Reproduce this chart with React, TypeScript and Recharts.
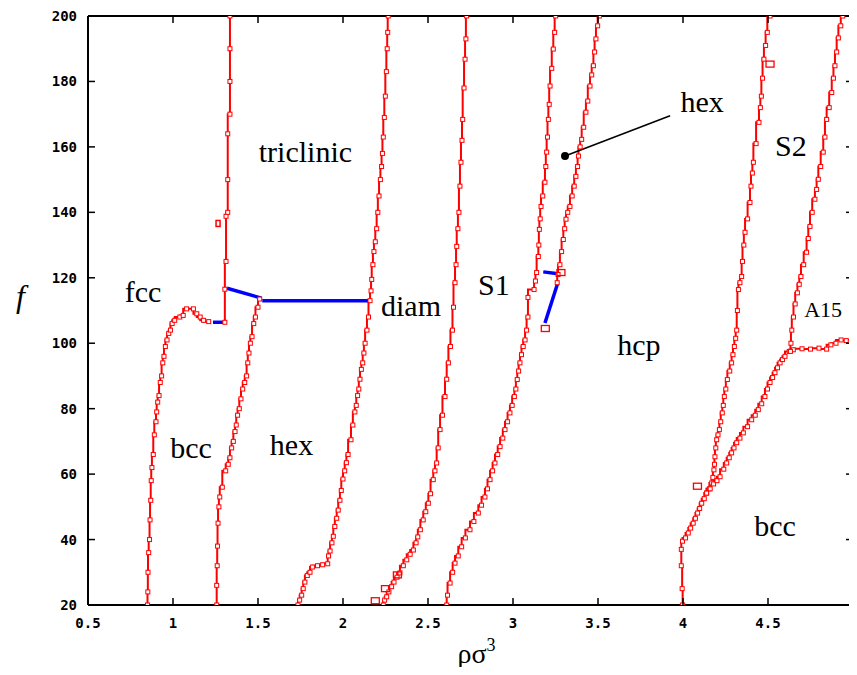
import { ComposedChart, Line, Scatter, XAxis, YAxis, ReferenceLine, ReferenceDot } from 'recharts';

const xTicks = [0.5, 1, 1.5, 2, 2.5, 3, 3.5, 4, 4.5, 5];
const yTicks = [20, 40, 60, 80, 100, 120, 140, 160, 180, 200];
const xDomain = [0.5, 5];
const yDomain = [20, 200];

// red phase boundaries (rho sigma^3, f)
const bccFcc = [
    { x: 0.85, y: 20 }, { x: 0.852, y: 24 }, { x: 0.853, y: 30 }, { x: 0.857, y: 36 }, { x: 0.862, y: 40 },
    { x: 0.865, y: 46 }, { x: 0.869, y: 52 }, { x: 0.872, y: 58 }, { x: 0.876, y: 62 }, { x: 0.884, y: 66 },
    { x: 0.89, y: 72 }, { x: 0.9, y: 76 }, { x: 0.904, y: 79 }, { x: 0.91, y: 82 }, { x: 0.918, y: 84 },
    { x: 0.925, y: 88 }, { x: 0.933, y: 90 }, { x: 0.94, y: 94 }, { x: 0.947, y: 96 }, { x: 0.955, y: 99 },
    { x: 0.965, y: 101 }, { x: 0.975, y: 103 }, { x: 0.985, y: 104 }, { x: 0.995, y: 106 }, { x: 1.01, y: 107 },
    { x: 1.04, y: 108 }, { x: 1.06, y: 108.5 }, { x: 1.08, y: 110.5 }, { x: 1.12, y: 110.5 }, { x: 1.14, y: 109 },
    { x: 1.16, y: 108 }, { x: 1.18, y: 107 }, { x: 1.21, y: 106.6 },
];
const fccTriclinic = [
    { x: 1.305, y: 106.4 }, { x: 1.305, y: 116.5 }, { x: 1.312, y: 125 }, { x: 1.312, y: 138.8 }, { x: 1.322, y: 140 },
    { x: 1.322, y: 150 }, { x: 1.322, y: 164 }, { x: 1.335, y: 170 }, { x: 1.335, y: 180 }, { x: 1.335, y: 190 },
    { x: 1.335, y: 200 },
];
const bccHex = [
    { x: 1.257, y: 20 }, { x: 1.257, y: 26 }, { x: 1.26, y: 32 }, { x: 1.262, y: 38 }, { x: 1.265, y: 45 },
    { x: 1.27, y: 50 }, { x: 1.275, y: 53 }, { x: 1.29, y: 56 }, { x: 1.31, y: 61 }, { x: 1.325, y: 63 },
    { x: 1.335, y: 65 }, { x: 1.345, y: 68 }, { x: 1.355, y: 70 }, { x: 1.365, y: 73 }, { x: 1.372, y: 75 },
    { x: 1.38, y: 78 }, { x: 1.39, y: 80 }, { x: 1.4, y: 83 }, { x: 1.41, y: 86 }, { x: 1.422, y: 88 },
    { x: 1.433, y: 90 }, { x: 1.44, y: 94 }, { x: 1.447, y: 97 }, { x: 1.455, y: 100 }, { x: 1.465, y: 102 },
    { x: 1.475, y: 106 }, { x: 1.485, y: 108 }, { x: 1.5, y: 111 }, { x: 1.51, y: 113.5 },
];
const hexDiam = [
    { x: 1.735, y: 20 }, { x: 1.745, y: 21.5 }, { x: 1.757, y: 23 }, { x: 1.766, y: 25 }, { x: 1.776, y: 27 },
    { x: 1.79, y: 29 }, { x: 1.806, y: 30 }, { x: 1.82, y: 31.6 }, { x: 1.85, y: 32 }, { x: 1.88, y: 32.3 },
    { x: 1.91, y: 32.6 }, { x: 1.915, y: 35 }, { x: 1.924, y: 36.5 }, { x: 1.935, y: 39 }, { x: 1.943, y: 41 },
    { x: 1.952, y: 44 }, { x: 1.963, y: 46.5 }, { x: 1.972, y: 49 }, { x: 1.982, y: 52 }, { x: 1.99, y: 55 },
    { x: 2.0, y: 58.5 }, { x: 2.01, y: 61 }, { x: 2.02, y: 63.5 }, { x: 2.03, y: 66 }, { x: 2.047, y: 70.5 },
    { x: 2.058, y: 75 }, { x: 2.07, y: 79 }, { x: 2.078, y: 81 }, { x: 2.086, y: 84 }, { x: 2.093, y: 86 },
    { x: 2.1, y: 89 }, { x: 2.108, y: 92 }, { x: 2.116, y: 94 }, { x: 2.123, y: 97 }, { x: 2.13, y: 100 },
    { x: 2.141, y: 104 }, { x: 2.15, y: 108 }, { x: 2.159, y: 113 }, { x: 2.165, y: 116 }, { x: 2.169, y: 119.5 },
    { x: 2.176, y: 124 }, { x: 2.182, y: 128 }, { x: 2.19, y: 131 }, { x: 2.198, y: 135 }, { x: 2.205, y: 140 },
    { x: 2.212, y: 145 }, { x: 2.22, y: 150 }, { x: 2.227, y: 154 }, { x: 2.232, y: 158 }, { x: 2.237, y: 163 },
    { x: 2.243, y: 169 }, { x: 2.249, y: 175.5 }, { x: 2.255, y: 183 }, { x: 2.26, y: 190 }, { x: 2.263, y: 195 },
    { x: 2.266, y: 200 },
];
const diamS1 = [
    { x: 2.237, y: 20 }, { x: 2.245, y: 21.5 }, { x: 2.257, y: 22.5 }, { x: 2.27, y: 24 }, { x: 2.286, y: 25.6 },
    { x: 2.3, y: 27 }, { x: 2.318, y: 28.5 }, { x: 2.335, y: 29.8 }, { x: 2.355, y: 32 }, { x: 2.375, y: 33.8 },
    { x: 2.395, y: 35.5 }, { x: 2.414, y: 36.8 }, { x: 2.43, y: 39 }, { x: 2.44, y: 40.8 }, { x: 2.455, y: 43 },
    { x: 2.472, y: 46 }, { x: 2.487, y: 48.5 }, { x: 2.502, y: 51.1 }, { x: 2.515, y: 54 }, { x: 2.531, y: 58.3 },
    { x: 2.541, y: 61 }, { x: 2.551, y: 63.4 }, { x: 2.56, y: 68 }, { x: 2.571, y: 73.6 }, { x: 2.585, y: 78 },
    { x: 2.6, y: 83.7 }, { x: 2.61, y: 89 }, { x: 2.62, y: 94 }, { x: 2.632, y: 99 }, { x: 2.644, y: 104 },
    { x: 2.65, y: 111 }, { x: 2.659, y: 118.5 }, { x: 2.665, y: 124 }, { x: 2.669, y: 129.6 }, { x: 2.676, y: 135 },
    { x: 2.682, y: 140 }, { x: 2.688, y: 148 }, { x: 2.694, y: 155.3 }, { x: 2.7, y: 162 }, { x: 2.704, y: 168.4 },
    { x: 2.712, y: 178 }, { x: 2.718, y: 186.8 }, { x: 2.723, y: 193 }, { x: 2.727, y: 200 },
];
const s1Hcp = [
    { x: 2.61, y: 20 }, { x: 2.615, y: 23 }, { x: 2.63, y: 26.7 }, { x: 2.645, y: 30 }, { x: 2.659, y: 32.8 },
    { x: 2.678, y: 35 }, { x: 2.698, y: 37.8 }, { x: 2.72, y: 40.5 }, { x: 2.747, y: 43 }, { x: 2.77, y: 45.5 },
    { x: 2.796, y: 48.1 }, { x: 2.815, y: 50.5 }, { x: 2.835, y: 53 }, { x: 2.85, y: 55.5 }, { x: 2.865, y: 58.3 },
    { x: 2.88, y: 61 }, { x: 2.894, y: 63.4 }, { x: 2.91, y: 66 }, { x: 2.924, y: 68.4 }, { x: 2.94, y: 71 },
    { x: 2.953, y: 73.6 }, { x: 2.968, y: 76 }, { x: 2.982, y: 78.7 }, { x: 2.995, y: 81 }, { x: 3.008, y: 83.7 },
    { x: 3.017, y: 86 }, { x: 3.025, y: 88.9 }, { x: 3.033, y: 91.5 }, { x: 3.041, y: 94 }, { x: 3.05, y: 96.5 },
    { x: 3.06, y: 99 }, { x: 3.071, y: 101 }, { x: 3.08, y: 104 }, { x: 3.088, y: 108 }, { x: 3.088, y: 114 },
    { x: 3.124, y: 116.4 }, { x: 3.132, y: 119 }, { x: 3.139, y: 121.6 }, { x: 3.149, y: 126.5 }, { x: 3.152, y: 130 },
    { x: 3.155, y: 134.8 }, { x: 3.16, y: 138 }, { x: 3.165, y: 141.8 }, { x: 3.175, y: 145 }, { x: 3.188, y: 149.2 },
    { x: 3.193, y: 154 }, { x: 3.198, y: 158.4 }, { x: 3.203, y: 163 }, { x: 3.208, y: 168.4 }, { x: 3.213, y: 173 },
    { x: 3.218, y: 178.6 }, { x: 3.228, y: 184 }, { x: 3.237, y: 189.9 }, { x: 3.245, y: 195 }, { x: 3.251, y: 200 },
];
const hexHcp = [
    { x: 3.26, y: 118.5 }, { x: 3.265, y: 121 }, { x: 3.276, y: 124 }, { x: 3.286, y: 128 }, { x: 3.296, y: 131.7 },
    { x: 3.304, y: 135 }, { x: 3.312, y: 137.9 }, { x: 3.322, y: 140 }, { x: 3.335, y: 141.8 }, { x: 3.348, y: 145 },
    { x: 3.36, y: 148 }, { x: 3.37, y: 151 }, { x: 3.38, y: 154 }, { x: 3.385, y: 157.2 }, { x: 3.395, y: 160 },
    { x: 3.404, y: 162.3 }, { x: 3.416, y: 166 }, { x: 3.429, y: 170.6 }, { x: 3.44, y: 174 }, { x: 3.453, y: 178.6 },
    { x: 3.463, y: 182 }, { x: 3.473, y: 184.8 }, { x: 3.48, y: 189 }, { x: 3.488, y: 193 }, { x: 3.498, y: 197 },
    { x: 3.508, y: 200 },
];
const hcpS2 = [
    { x: 3.998, y: 20 }, { x: 3.995, y: 25 }, { x: 3.99, y: 32 }, { x: 3.99, y: 37 }, { x: 3.997, y: 39.5 },
    { x: 4.015, y: 40.5 }, { x: 4.031, y: 42 }, { x: 4.045, y: 43.5 }, { x: 4.06, y: 45 }, { x: 4.073, y: 46.5 },
    { x: 4.086, y: 48.1 }, { x: 4.098, y: 49.5 }, { x: 4.11, y: 51.1 }, { x: 4.125, y: 52.5 }, { x: 4.139, y: 54.2 },
    { x: 4.155, y: 55.5 }, { x: 4.169, y: 57.3 }, { x: 4.176, y: 59 }, { x: 4.182, y: 61.3 }, { x: 4.185, y: 63 },
    { x: 4.188, y: 65.3 }, { x: 4.193, y: 68 }, { x: 4.198, y: 70.5 }, { x: 4.206, y: 72 }, { x: 4.214, y: 73.6 },
    { x: 4.222, y: 76 }, { x: 4.231, y: 78.7 }, { x: 4.237, y: 81 }, { x: 4.243, y: 83.7 }, { x: 4.252, y: 86 },
    { x: 4.261, y: 88.9 }, { x: 4.275, y: 91.5 }, { x: 4.286, y: 94 }, { x: 4.294, y: 96.5 }, { x: 4.302, y: 99 },
    { x: 4.31, y: 101.5 }, { x: 4.316, y: 104 }, { x: 4.32, y: 110 }, { x: 4.326, y: 116.4 }, { x: 4.335, y: 118.5 },
    { x: 4.345, y: 120.4 }, { x: 4.35, y: 125 }, { x: 4.358, y: 130 }, { x: 4.365, y: 133.9 }, { x: 4.38, y: 138 },
    { x: 4.394, y: 143 }, { x: 4.4, y: 148 }, { x: 4.408, y: 152 }, { x: 4.414, y: 155.3 }, { x: 4.43, y: 161 },
    { x: 4.447, y: 167.5 }, { x: 4.455, y: 172 }, { x: 4.461, y: 175.5 }, { x: 4.468, y: 181 }, { x: 4.476, y: 186.8 },
    { x: 4.486, y: 191 }, { x: 4.496, y: 195 }, { x: 4.512, y: 200 },
];
const hcpBcc = [
    { x: 4.139, y: 54.2 }, { x: 4.16, y: 55.5 }, { x: 4.18, y: 57 }, { x: 4.2, y: 58 }, { x: 4.218, y: 59.2 },
    { x: 4.24, y: 61.5 }, { x: 4.257, y: 63.4 }, { x: 4.272, y: 65 }, { x: 4.286, y: 66.5 }, { x: 4.3, y: 68 },
    { x: 4.316, y: 69.6 }, { x: 4.335, y: 71 }, { x: 4.355, y: 72.6 }, { x: 4.38, y: 74.5 }, { x: 4.404, y: 76.6 },
    { x: 4.425, y: 78 }, { x: 4.443, y: 79.7 }, { x: 4.463, y: 81.5 }, { x: 4.482, y: 83.7 }, { x: 4.497, y: 86 },
    { x: 4.512, y: 88 }, { x: 4.527, y: 89.5 }, { x: 4.541, y: 91 }, { x: 4.556, y: 92.5 }, { x: 4.571, y: 94 },
    { x: 4.585, y: 95 }, { x: 4.6, y: 96 }, { x: 4.625, y: 97.5 }, { x: 4.649, y: 98 }, { x: 4.7, y: 98.3 },
    { x: 4.75, y: 98.2 }, { x: 4.8, y: 98.5 }, { x: 4.845, y: 98.2 }, { x: 4.87, y: 99.5 }, { x: 4.9, y: 100 },
    { x: 4.93, y: 101 }, { x: 4.96, y: 100.8 }, { x: 5.0, y: 101 },
];
const s2A15 = [
    { x: 4.632, y: 97.5 }, { x: 4.635, y: 100 }, { x: 4.64, y: 104 }, { x: 4.65, y: 108 }, { x: 4.66, y: 112 },
    { x: 4.673, y: 115.4 }, { x: 4.684, y: 118 }, { x: 4.694, y: 120.4 }, { x: 4.71, y: 124 }, { x: 4.727, y: 127.8 },
    { x: 4.737, y: 132 }, { x: 4.747, y: 135.7 }, { x: 4.76, y: 140 }, { x: 4.776, y: 144 }, { x: 4.786, y: 147 },
    { x: 4.796, y: 150.1 }, { x: 4.81, y: 154 }, { x: 4.825, y: 158.4 }, { x: 4.835, y: 163 }, { x: 4.845, y: 168.4 },
    { x: 4.86, y: 172 }, { x: 4.875, y: 176.6 }, { x: 4.885, y: 181 }, { x: 4.894, y: 184.8 }, { x: 4.904, y: 189 },
    { x: 4.914, y: 193.3 }, { x: 4.928, y: 197 }, { x: 4.94, y: 200 },
];

// blue triple-point connectors
const blueFcc = [{ x: 1.235, y: 106.4 }, { x: 1.298, y: 106.4 }];
const blueTri = [{ x: 1.318, y: 116.8 }, { x: 1.52, y: 113.8 }];
const blueDiam = [{ x: 1.525, y: 113 }, { x: 2.16, y: 113 }];
const blueS1Top = [{ x: 3.178, y: 121.8 }, { x: 3.253, y: 121.3 }];
const blueS1Low = [{ x: 3.261, y: 118 }, { x: 3.188, y: 106.2 }];

const bigSquares = [
    { x: 3.282, y: 121.6 }, { x: 4.512, y: 185.3 }, { x: 2.19, y: 21.3 }, { x: 2.25, y: 25 },
    { x: 2.32, y: 29.2 }, { x: 3.19, y: 104.5 }, { x: 4.085, y: 56.3 },
];
const strayPoints = [{ x: 1.265, y: 136.6 }];

const phaseLabels = [
    { name: 'fcc', x: 0.824, y: 116 },
    { name: 'triclinic', x: 1.779, y: 158.5 },
    { name: 'diam', x: 2.4, y: 111.7 },
    { name: 'S1', x: 2.888, y: 118.1 },
    { name: 'hex', x: 4.112, y: 173.9 },
    { name: 'S2', x: 4.635, y: 160.4 },
    { name: 'hcp', x: 3.741, y: 99.8 },
    { name: 'bcc', x: 1.106, y: 68.2 },
    { name: 'hex', x: 1.697, y: 69.2 },
    { name: 'bcc', x: 4.541, y: 44.2 },
];
const a15Label = { name: 'A15', x: 4.824, y: 110.5 };
const pointer = [{ x: 3.306, y: 157.2 }, { x: 3.924, y: 169.5 }];

const redLines = [bccFcc, fccTriclinic, bccHex, hexDiam, diamS1, s1Hcp, hexHcp, hcpS2, hcpBcc, s2A15];
const blueLines = [blueFcc, blueTri, blueDiam, blueS1Top, blueS1Low];

// chart box
const W = 870;
const H = 667;
const M = { top: 8, right: 25, left: 0, bottom: 0 };
const TICK = 7;

const serif = '"Liberation Serif", "Times New Roman", serif';
const mono = '"DejaVu Sans Mono", monospace';

const smallSquare = (p: any) => (
    <rect key={`sq-${p.index}`} x={p.cx - 2} y={p.cy - 2} width={4} height={4} fill="#fff" stroke="#ff0000" strokeWidth={1} />
);

const bigSquare = (p: any) => (
    <rect x={p.cx - 4} y={p.cy - 3} width={8} height={6} fill="none" stroke="#ff0000" strokeWidth={1.3} />
);

const tallSquare = (p: any) => (
    <rect x={p.cx - 2} y={p.cy - 3} width={4} height={6} fill="#fff" stroke="#ff0000" strokeWidth={1.5} />
);

// x tick: label below the axis plus inward marks on the bottom and top borders
const XTick = (p: any) => {
    const bottom = p.y - 13;
    return (
        <g>
            <line x1={p.x} x2={p.x} y1={bottom} y2={bottom - TICK} stroke="#000" strokeWidth={1.5} />
            <line x1={p.x} x2={p.x} y1={M.top} y2={M.top + TICK} stroke="#000" strokeWidth={1.5} />
            {p.payload.value === xDomain[1] ? null : (
                <text x={p.x} y={p.y} dy={10} textAnchor="middle" fontSize={14} fontWeight="bold" fontFamily={mono} fill="#000">
                    {p.payload.value}
                </text>
            )}
        </g>
    );
};

// y tick: label left of the axis plus inward marks on the left and right borders
const YTick = (p: any) => {
    const left = p.x + 11;
    const right = W - M.right;
    return (
        <g>
            <line x1={left} x2={left + TICK} y1={p.y} y2={p.y} stroke="#000" strokeWidth={1.5} />
            <line x1={right} x2={right - TICK} y1={p.y} y2={p.y} stroke="#000" strokeWidth={1.5} />
            <text x={p.x} y={p.y} dy={5} textAnchor="end" fontSize={14} fontWeight="bold" fontFamily={mono} fill="#000">
                {p.payload.value}
            </text>
        </g>
    );
};

const frame = { stroke: '#000', strokeWidth: 2 };

export default function App() {
    return (
        <div style={{ width: 849, height: H, overflow: 'hidden', marginBottom: -8 }}>
            <ComposedChart width={W} height={H} margin={M}>
                <XAxis
                    xAxisId="x"
                    type="number"
                    dataKey="x"
                    domain={xDomain}
                    ticks={xTicks}
                    interval={0}
                    allowDataOverflow
                    height={70}
                    tickLine={false}
                    tickSize={0}
                    tickMargin={13}
                    tick={XTick}
                    axisLine={frame}
                    label={{
                        content: (p: any) => (
                            <text
                                x={p.viewBox.x + p.viewBox.width / 2 + 6}
                                y={p.viewBox.y + 58}
                                textAnchor="middle"
                                fontFamily={serif}
                                fontSize={28}
                                fill="#000"
                            >
                                ρσ<tspan fontSize={18} dy={-12}>3</tspan>
                            </text>
                        ),
                    }}
                />
                <YAxis
                    yAxisId="y"
                    type="number"
                    domain={yDomain}
                    ticks={yTicks}
                    interval={0}
                    allowDataOverflow
                    width={80}
                    tickLine={false}
                    tickSize={0}
                    tickMargin={11}
                    tick={YTick}
                    axisLine={frame}
                    label={{
                        content: (p: any) => (
                            <text
                                x={p.viewBox.x + 8}
                                y={p.viewBox.y + p.viewBox.height / 2 - 4}
                                fontFamily={serif}
                                fontStyle="italic"
                                fontSize={32}
                                fill="#000"
                            >
                                f
                            </text>
                        ),
                    }}
                />

                {/* top and right border */}
                <ReferenceLine xAxisId="x" yAxisId="y" y={yDomain[1]} ifOverflow="visible" {...frame} />
                <ReferenceLine xAxisId="x" yAxisId="y" x={xDomain[1]} ifOverflow="visible" {...frame} />

                {redLines.map((d, i) => (
                    <Line
                        key={`red-${i}`}
                        xAxisId="x"
                        yAxisId="y"
                        data={d}
                        dataKey="y"
                        type="stepBefore"
                        stroke="#ff0000"
                        strokeWidth={2}
                        dot={smallSquare}
                        activeDot={false}
                        isAnimationActive={false}
                    />
                ))}
                {blueLines.map((d, i) => (
                    <Line
                        key={`blue-${i}`}
                        xAxisId="x"
                        yAxisId="y"
                        data={d}
                        dataKey="y"
                        type="linear"
                        stroke="#0000ff"
                        strokeWidth={3.5}
                        dot={false}
                        activeDot={false}
                        isAnimationActive={false}
                    />
                ))}
                <Scatter xAxisId="x" yAxisId="y" data={bigSquares} dataKey="y" shape={bigSquare} isAnimationActive={false} />
                <Scatter xAxisId="x" yAxisId="y" data={strayPoints} dataKey="y" shape={tallSquare} isAnimationActive={false} />

                <ReferenceLine xAxisId="x" yAxisId="y" segment={pointer} stroke="#000" strokeWidth={1.5} />
                <ReferenceDot xAxisId="x" yAxisId="y" x={pointer[0].x} y={pointer[0].y} r={4} fill="#000" stroke="none" />

                {/* last x tick label at the right edge */}
                <ReferenceDot
                    xAxisId="x"
                    yAxisId="y"
                    x={xDomain[1]}
                    y={yDomain[0]}
                    r={0}
                    stroke="none"
                    ifOverflow="visible"
                    label={{
                        content: (p: any) => (
                            <text x={p.viewBox.x} y={p.viewBox.y + 23} textAnchor="middle" fontSize={14} fontWeight="bold"
                                fontFamily={mono} fill="#000">
                                {xDomain[1]}
                            </text>
                        ),
                    }}
                />

                {phaseLabels.map((l, i) => (
                    <ReferenceDot
                        key={`lbl-${i}`}
                        xAxisId="x"
                        yAxisId="y"
                        x={l.x}
                        y={l.y}
                        r={0}
                        stroke="none"
                        label={{ value: l.name, position: 'center', fontSize: 30, fontFamily: serif, fill: '#000' }}
                    />
                ))}
                <ReferenceDot
                    xAxisId="x"
                    yAxisId="y"
                    x={a15Label.x}
                    y={a15Label.y}
                    r={0}
                    stroke="none"
                    label={{ value: a15Label.name, position: 'center', fontSize: 22, fontFamily: serif, fill: '#000' }}
                />
            </ComposedChart>
        </div>
    );
}
